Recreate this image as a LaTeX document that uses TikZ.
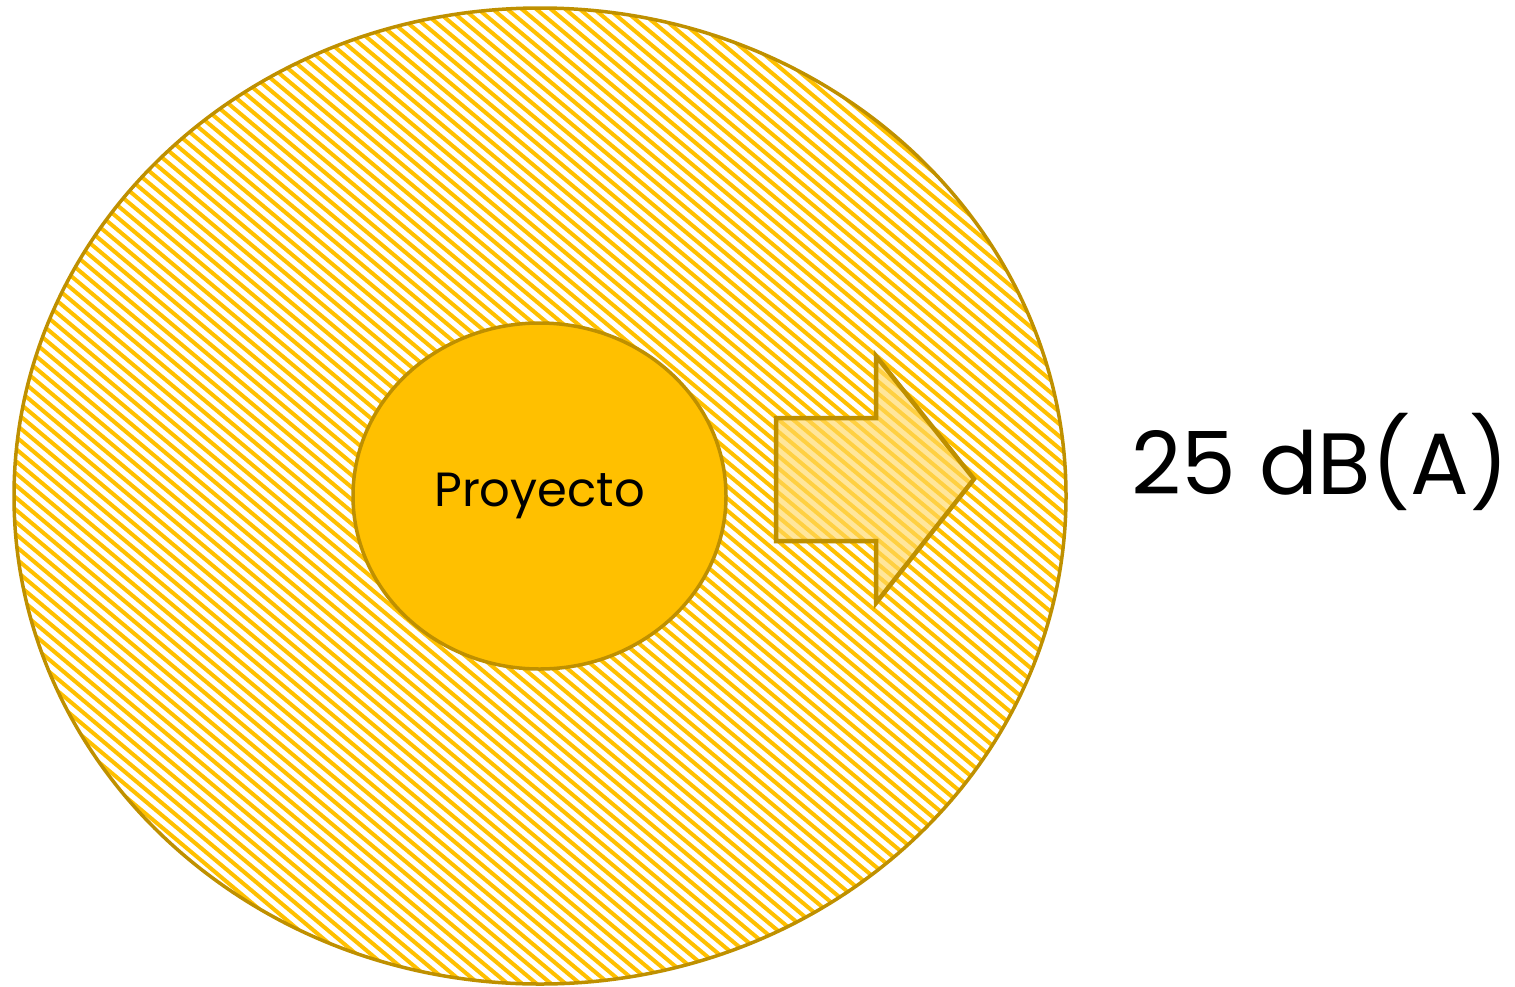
\documentclass[tikz,border=0pt]{standalone}
\usepackage{fontspec}
\setmainfont{Poppins}
\usepackage{xcolor}
\usetikzlibrary{shapes.geometric,positioning}

\definecolor{amber}{HTML}{FFC000}
\definecolor{amberdark}{HTML}{BF9000}
\definecolor{amberlight}{HTML}{FFD966}

\tikzset{
  zone/.style={ellipse, draw=amberdark, line width=3.5pt, inner sep=0pt},
  stripe/.style={amber, line width=4pt}
}

\begin{document}
\begin{tikzpicture}[x=1pt,y=-1pt]
  \useasboundingbox (0,0) rectangle (1515,986);

  % Hatching of the outer zone
  \begin{scope}
    \clip (540,496) ellipse [x radius=526, y radius=488];
    \foreach \x in {-1200,-1185.5,...,1100}
      \draw[stripe] (\x,0) -- (\x+1200,1008);
  \end{scope}

  % Zones
  \node[zone, minimum width=1052pt, minimum height=976pt] (outer) at (540,496) {};
  \node[zone, fill=amber, minimum width=373pt, minimum height=346pt] (project) at (539.5,496)
    {\fontsize{48}{56}\selectfont Proyecto};

  % Spreading arrow
  \draw[amberdark, line width=4.5pt, line join=miter, fill=amberlight, fill opacity=0.65]
    (776,418) -- (876,418) -- (876,356) -- (974,479) -- (876,603) -- (876,541) -- (776,541) -- cycle;

  % Level
  \node (level) at (1320,462) {\fontsize{87}{100}\selectfont 25 dB(A)};
\end{tikzpicture}
\end{document}
